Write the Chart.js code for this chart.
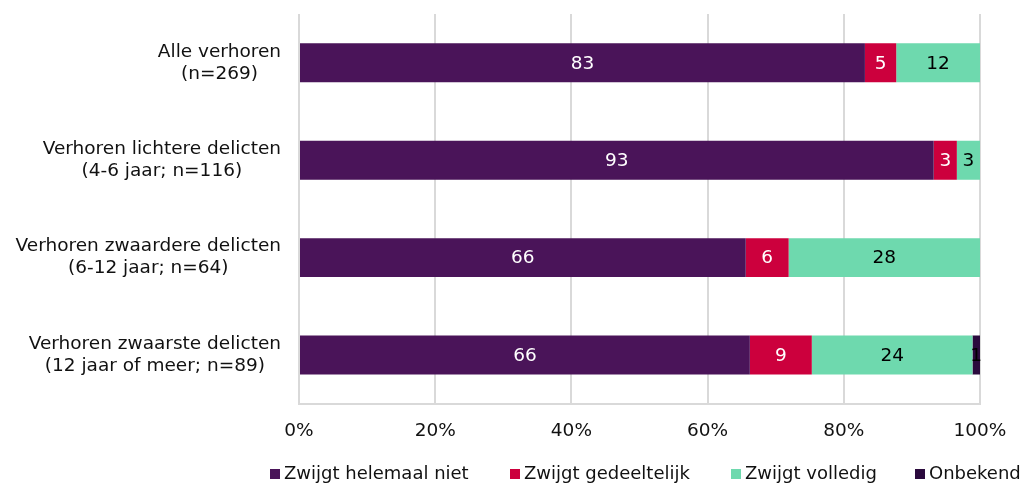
<!DOCTYPE html>
<html>
<head>
<meta charset="utf-8">
<script src="https://cdn.jsdelivr.net/npm/chart.js@4/dist/chart.umd.min.js"></script>
<style>
  html, body { margin: 0; padding: 0; background: #fff; }
  #wrap { width: 1025px; height: 484px; }
</style>
</head>
<body>
<div id="wrap"><canvas id="chart"></canvas></div>
<script>
const categories = [
  ['Alle verhoren', '(n=269)'],
  ['Verhoren lichtere delicten', '(4-6 jaar; n=116)'],
  ['Verhoren zwaardere delicten', '(6-12 jaar; n=64)'],
  ['Verhoren zwaarste delicten', '(12 jaar of meer; n=89)']
];
const seriesNames = ['Zwijgt helemaal niet', 'Zwijgt gedeeltelijk', 'Zwijgt volledig', 'Onbekend'];
const helemaalNiet = [83.1, 93.2, 65.6, 66.2];
const gedeeltelijk = [4.6, 3.4, 6.3, 9.1];
const volledig = [12.3, 3.4, 28.1, 23.6];
const onbekend = [0, 0, 0, 1.1];
const xTicks = [0, 20, 40, 60, 80, 100];

const colors = ['#4a1459', '#cc003d', '#6ed9ae', '#2b0a3d'];
const labelColors = ['#fff', '#fff', '#000', '#000'];
const FONT = '"DejaVu Sans", Verdana, sans-serif';

Chart.defaults.font.family = FONT;
Chart.defaults.font.size = 18.5;
Chart.defaults.color = '#111';

// category labels: right-aligned block, lines centred within it
const yLabels = {
  id: 'yLabels',
  afterDraw(chart) {
    const ctx = chart.ctx;
    const y = chart.scales.y;
    ctx.save();
    ctx.font = '18.5px ' + FONT;
    ctx.fillStyle = '#111';
    ctx.textAlign = 'center';
    ctx.textBaseline = 'middle';
    categories.forEach((lines, i) => {
      const cy = y.getPixelForValue(i);
      const w = Math.max(...lines.map(l => ctx.measureText(l).width));
      const cx = 281 - w / 2;
      const lh = 22;
      lines.forEach((l, j) => {
        ctx.fillText(l, cx, cy + (j - (lines.length - 1) / 2) * lh);
      });
    });
    ctx.restore();
  }
};

// value labels in the middle of each segment
const barLabels = {
  id: 'barLabels',
  afterDatasetsDraw(chart) {
    const ctx = chart.ctx;
    ctx.save();
    ctx.font = '18.5px ' + FONT;
    ctx.textAlign = 'center';
    ctx.textBaseline = 'middle';
    chart.data.datasets.forEach((ds, di) => {
      const meta = chart.getDatasetMeta(di);
      meta.data.forEach((el, i) => {
        const v = ds.data[i];
        if (!v) return;
        ctx.fillStyle = labelColors[di];
        ctx.fillText(Math.round(v), (el.x + el.base) / 2, el.y + 1);
      });
    });
    ctx.restore();
  }
};

// legend row at the bottom
const bottomLegend = {
  id: 'bottomLegend',
  afterDraw(chart) {
    const ctx = chart.ctx;
    ctx.save();
    ctx.font = '18px ' + FONT;
    ctx.textBaseline = 'middle';
    const starts = [270, 510, 731, 915];
    const cy = 474;
    chart.data.datasets.forEach((ds, i) => {
      ctx.fillStyle = ds.backgroundColor;
      ctx.fillRect(starts[i], cy - 5, 10, 10);
      ctx.fillStyle = '#111';
      ctx.fillText(ds.label, starts[i] + 14, cy);
    });
    ctx.restore();
  }
};

const allSeries = [helemaalNiet, gedeeltelijk, volledig, onbekend];

new Chart(document.getElementById('chart'), {
  type: 'bar',
  data: {
    labels: categories,
    datasets: allSeries.map((d, i) => ({
      label: seriesNames[i],
      data: d,
      backgroundColor: colors[i],
      barPercentage: 0.4,
      categoryPercentage: 1
    }))
  },
  options: {
    indexAxis: 'y',
    responsive: true,
    maintainAspectRatio: false,
    animation: false,
    layout: { padding: { left: 299, right: 45, top: 14, bottom: 26 } },
    plugins: {
      legend: { display: false },
      tooltip: { enabled: false }
    },
    scales: {
      x: {
        stacked: true,
        min: 0,
        max: 100,
        afterBuildTicks(scale) { scale.ticks = xTicks.map(v => ({ value: v })); },
        ticks: { callback: v => v + '%', padding: 16, color: '#111', maxRotation: 0 },
        grid: { color: '#d9d9d9', lineWidth: 2, drawTicks: false },
        border: { color: '#d9d9d9', width: 2 }
      },
      y: {
        stacked: true,
        display: false
      }
    }
  },
  plugins: [yLabels, barLabels, bottomLegend]
});
</script>
</body>
</html>
